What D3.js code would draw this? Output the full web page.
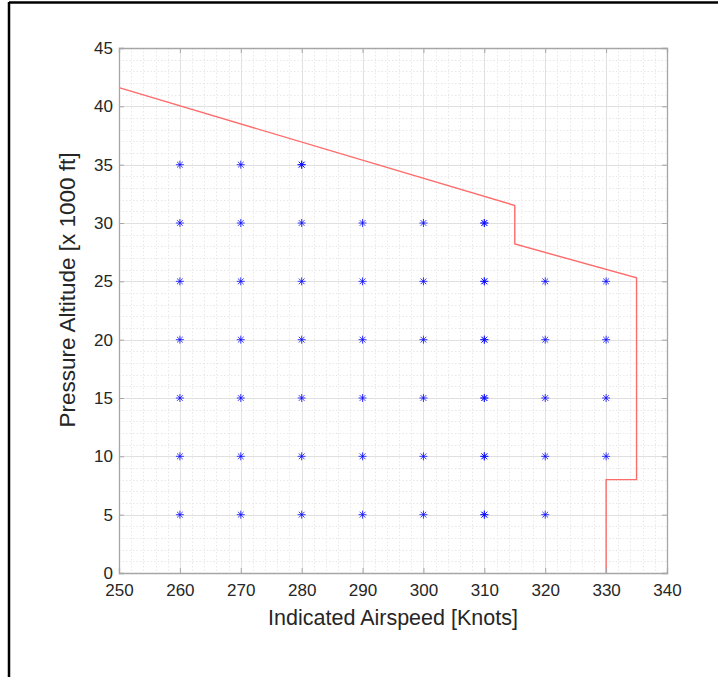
<!DOCTYPE html>
<html>
<head>
<meta charset="utf-8">
<script src="https://cdn.jsdelivr.net/npm/d3@7/dist/d3.min.js"></script>
<style>
  html, body { margin: 0; padding: 0; background: #fff; }
  svg { display: block; }
  text { font-family: "Liberation Sans", Arial, Helvetica, sans-serif; fill: #262626; }
</style>
</head>
<body>
<svg id="chart" width="718" height="677"></svg>
<script>
// Axis ranges and ticks
const xDomain = [250, 340];
const yDomain = [0, 45];
const xTicks = [250, 260, 270, 280, 290, 300, 310, 320, 330, 340];
const yTicks = [0, 5, 10, 15, 20, 25, 30, 35, 40, 45];

// Flight envelope boundary (airspeed in knots, altitude in 1000 ft)
const envelopeSpeed = [250, 315, 315, 335, 335, 330, 330];
const envelopeAlt   = [41.6, 31.5, 28.2, 25.3, 8, 8, 0];

// Test points: airspeeds flown at each pressure altitude
const alt35 = [260, 270, 280];
const alt30 = [260, 270, 280, 290, 300, 310];
const alt25 = [260, 270, 280, 290, 300, 310, 320, 330];
const alt20 = [260, 270, 280, 290, 300, 310, 320, 330];
const alt15 = [260, 270, 280, 290, 300, 310, 320, 330];
const alt10 = [260, 270, 280, 290, 300, 310, 320, 330];
const alt5  = [260, 270, 280, 290, 300, 310, 320];

// Repeated test points (flown twice)
const repeatSpeed = [280, 310, 310, 310, 310, 310, 310];
const repeatAlt   = [35, 30, 25, 20, 15, 10, 5];

const points = [];
[[35, alt35], [30, alt30], [25, alt25], [20, alt20], [15, alt15], [10, alt10], [5, alt5]]
  .forEach(([alt, speeds]) => speeds.forEach(s => points.push([s, alt])));
repeatSpeed.forEach((s, i) => points.push([s, repeatAlt[i]]));

const svg = d3.select("#chart");

// Page frame
svg.append("line").attr("x1", 9).attr("y1", 2.5).attr("x2", 718).attr("y2", 2.5)
  .attr("stroke", "#000").attr("stroke-width", 2.5);
svg.append("line").attr("x1", 9).attr("y1", 2).attr("x2", 9).attr("y2", 677)
  .attr("stroke", "#000").attr("stroke-width", 2.5);

const plotLeft = 119, plotRight = 667, plotTop = 48, plotBottom = 573;
const x = d3.scaleLinear().domain(xDomain).range([plotLeft, plotRight]);
const y = d3.scaleLinear().domain(yDomain).range([plotBottom, plotTop]);

const g = svg.append("g");

// Minor grid
const xMinor = d3.range(xDomain[0], xDomain[1] + 0.1, 2).filter(v => v % 10 !== 0);
const yMinor = d3.range(yDomain[0], yDomain[1] + 0.1, 1).filter(v => v % 5 !== 0);
g.selectAll(".xminor").data(xMinor).join("line")
  .attr("x1", d => Math.round(x(d)) + 0.5).attr("x2", d => Math.round(x(d)) + 0.5)
  .attr("y1", plotTop).attr("y2", plotBottom)
  .attr("stroke", "#e8e8e8").attr("stroke-width", 1).attr("stroke-dasharray", "1.5,2");
g.selectAll(".yminor").data(yMinor).join("line")
  .attr("y1", d => Math.round(y(d)) + 0.5).attr("y2", d => Math.round(y(d)) + 0.5)
  .attr("x1", plotLeft).attr("x2", plotRight)
  .attr("stroke", "#e8e8e8").attr("stroke-width", 1).attr("stroke-dasharray", "1.5,2");

// Major grid
g.selectAll(".xmajor").data(xTicks).join("line")
  .attr("x1", d => Math.round(x(d)) + 0.5).attr("x2", d => Math.round(x(d)) + 0.5)
  .attr("y1", plotTop).attr("y2", plotBottom)
  .attr("stroke", "#e0e0e0").attr("stroke-width", 1);
g.selectAll(".ymajor").data(yTicks).join("line")
  .attr("y1", d => Math.round(y(d)) + 0.5).attr("y2", d => Math.round(y(d)) + 0.5)
  .attr("x1", plotLeft).attr("x2", plotRight)
  .attr("stroke", "#e0e0e0").attr("stroke-width", 1);

// Envelope boundary
const envelope = envelopeSpeed.map((s, i) => [s, envelopeAlt[i]]);
g.append("path")
  .attr("d", d3.line().x(d => x(d[0])).y(d => y(d[1]))(envelope))
  .attr("fill", "none").attr("stroke", "#ff6b6b").attr("stroke-width", 1.4);

// Asterisk markers
const r = 4, rd = r * 0.72;
const star = `M${-r},0L${r},0M0,${-r}L0,${r}M${-rd},${-rd}L${rd},${rd}M${-rd},${rd}L${rd},${-rd}`;
g.selectAll(".pt").data(points).join("path")
  .attr("transform", d => `translate(${x(d[0])},${y(d[1])})`)
  .attr("d", star).attr("fill", "none")
  .attr("stroke", "#0a0aff").attr("stroke-width", 1).attr("stroke-opacity", 0.8);

// Axes box with inward ticks on all sides
const axisColor = "#a6a6a6";
const tickLen = 5;
const xAxis = d3.axisBottom(x).tickValues(xTicks).tickSize(-tickLen).tickPadding(11).tickFormat(d3.format("d"));
const xAxisTop = d3.axisTop(x).tickValues(xTicks).tickSize(-tickLen).tickFormat("");
const yAxis = d3.axisLeft(y).tickValues(yTicks).tickSize(-tickLen).tickPadding(6).tickFormat(d3.format("d"));
const yAxisRight = d3.axisRight(y).tickValues(yTicks).tickSize(-tickLen).tickFormat("");

function styleAxis(sel) {
  sel.selectAll("path").attr("stroke", axisColor).attr("stroke-width", 1.3);
  sel.selectAll("line").attr("stroke", axisColor).attr("stroke-width", 1);
  sel.selectAll("text").style("font-size", "17px").attr("fill", "#262626")
    .style("font-family", "'Liberation Sans', Arial, sans-serif");
}

const gx = svg.append("g").attr("transform", `translate(0,${plotBottom})`).call(xAxis).call(styleAxis);
gx.selectAll("text").attr("dy", "0.72em");
svg.append("g").attr("transform", `translate(0,${plotTop})`).call(xAxisTop).call(styleAxis);
const gy = svg.append("g").attr("transform", `translate(${plotLeft},0)`).call(yAxis).call(styleAxis);
svg.append("g").attr("transform", `translate(${plotRight},0)`).call(yAxisRight).call(styleAxis);

// Axis titles
svg.append("text")
  .attr("x", 393).attr("y", 625)
  .attr("text-anchor", "middle")
  .style("font-size", "21.5px")
  .text("Indicated Airspeed [Knots]");
svg.append("text")
  .attr("transform", `translate(75,290) rotate(-90)`)
  .attr("text-anchor", "middle")
  .style("font-size", "22.5px")
  .text("Pressure Altitude [x 1000 ft]");
</script>
</body>
</html>
